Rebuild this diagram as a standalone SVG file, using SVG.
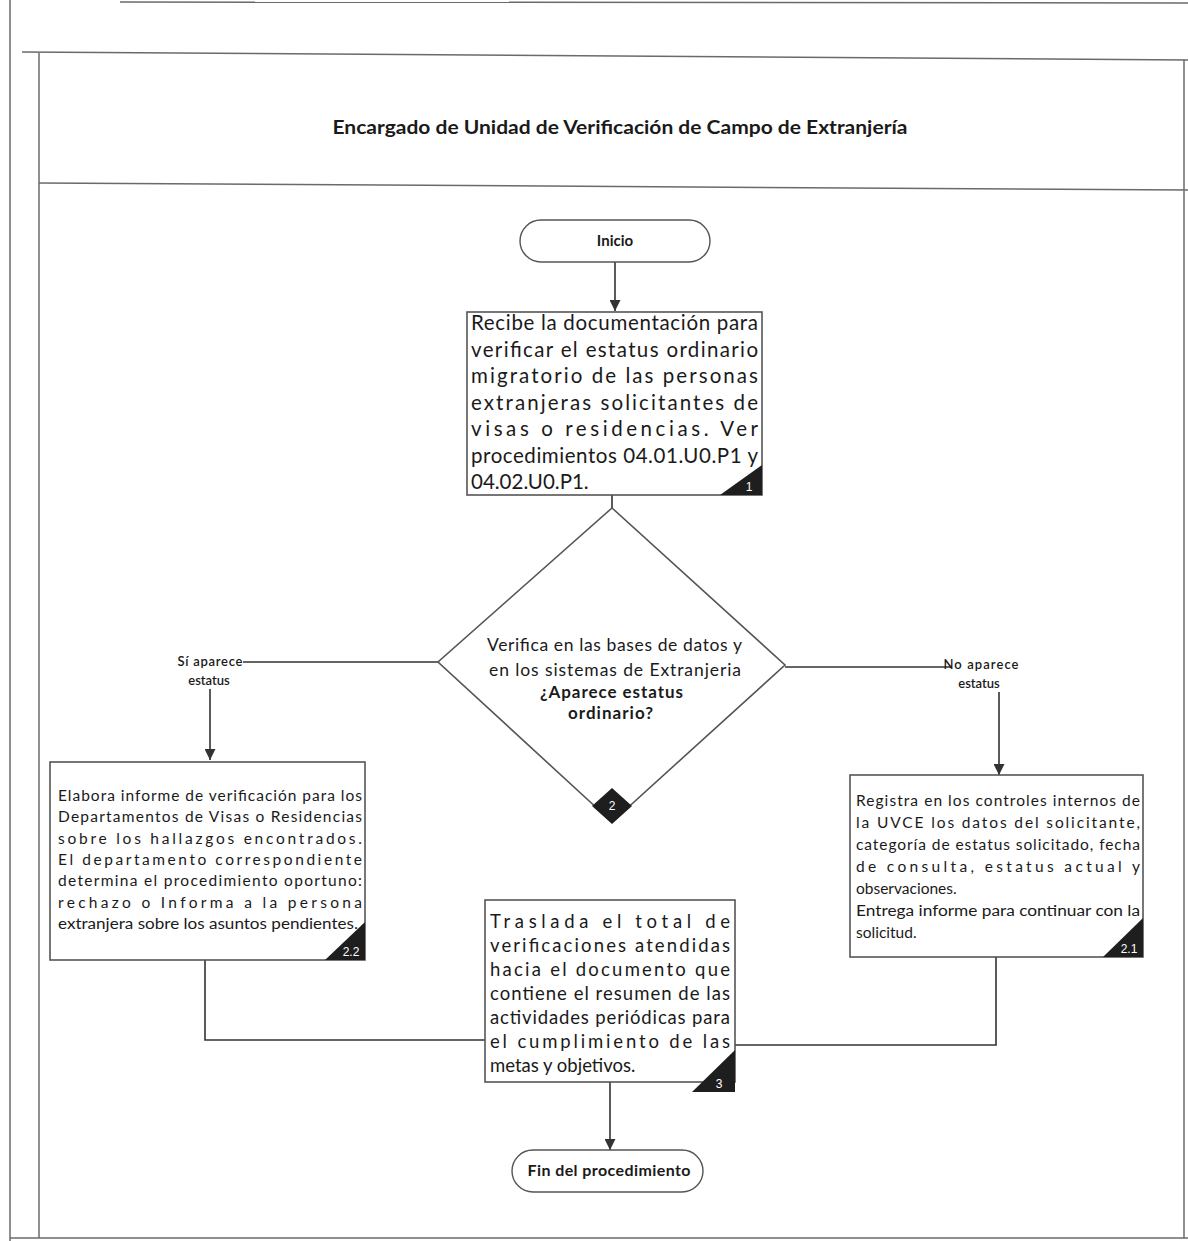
<svg xmlns="http://www.w3.org/2000/svg" width="1188" height="1241" viewBox="0 0 1188 1241">
  <defs>
    <style>
      .frame { stroke: #6a6a6a; stroke-width: 1.5; fill: none; }
      .box { fill: #ffffff; stroke: #555555; stroke-width: 1.6; }
      .term { fill: #ffffff; stroke: #555555; stroke-width: 1.4; }
      .txt { font-family: Lato, "Liberation Sans", sans-serif; fill: #1a1a1a; }
      .b { font-weight: bold; }
      .conn { stroke: #333333; stroke-width: 1.6; fill: none; }
      .badge { fill: #1e1e1e; }
      .bnum { font-family: "Liberation Sans", sans-serif; fill: #ffffff; font-size: 12px; text-anchor: middle; }
      .lbl { font-family: Lato, "Liberation Sans", sans-serif; fill: #1a1a1a; font-size: 13px; font-weight: 600; text-anchor: middle; }
    </style>
    <marker id="arrow" viewBox="0 0 10 10" refX="10" refY="5" markerWidth="11" markerHeight="11" markerUnits="userSpaceOnUse" orient="auto">
      <path d="M0,0 L10,5 L0,10 z" fill="#333333"/>
    </marker>
  </defs>

  <rect x="0" y="0" width="1188" height="1241" fill="#ffffff"/>

  <!-- page frame and lane header -->
  <g id="frame">
    <line class="frame" x1="120" y1="2" x2="1188" y2="3" stroke-width="2.5"/>
    <line class="frame" x1="10" y1="0" x2="10" y2="1241"/>
    <line class="frame" x1="39" y1="53" x2="39" y2="1238"/>
    <line class="frame" x1="22" y1="52" x2="1188" y2="60"/>
    <line class="frame" x1="39" y1="183" x2="1188" y2="190"/>
    <line class="frame" x1="10" y1="1238" x2="1188" y2="1238" stroke-width="2"/>
    <line class="frame" x1="1184" y1="60" x2="1184" y2="1238" stroke="#aaaaaa"/>
    <text class="txt b" x="620" y="134" font-size="18" text-anchor="middle" textLength="575" lengthAdjust="spacingAndGlyphs">Encargado de Unidad de Verificación de Campo de Extranjería</text>
  </g>

  <!-- connectors -->
  <g id="connectors">
    <line class="conn" x1="615" y1="262" x2="615" y2="311" marker-end="url(#arrow)"/>
    <line class="conn" x1="612" y1="495" x2="612" y2="508"/>
    <path class="conn" d="M438,662 H210 V760" marker-end="url(#arrow)"/>
    <path class="conn" d="M785,667 H999 V775" marker-end="url(#arrow)"/>
    <path class="conn" d="M205,960 V1040 H485"/>
    <path class="conn" d="M996,957 V1045 H735"/>
    <line class="conn" x1="610" y1="1082" x2="610" y2="1150" marker-end="url(#arrow)"/>
    <!-- branch labels -->
    <rect x="174" y="650" width="69" height="14" fill="#ffffff"/>
    <rect x="182" y="664" width="56" height="25" fill="#ffffff"/>
    <text class="lbl" x="210" y="666" textLength="65" lengthAdjust="spacing">Sí aparece</text>
    <text class="lbl" x="209" y="685">estatus</text>
    <rect x="943" y="652" width="78" height="14" fill="#ffffff"/>
    <rect x="952" y="666" width="56" height="26" fill="#ffffff"/>
    <text class="lbl" x="981" y="669" textLength="75" lengthAdjust="spacing">No aparece</text>
    <text class="lbl" x="979" y="688">estatus</text>
  </g>

  <!-- start -->
  <g id="inicio">
    <rect class="term" x="520" y="220" width="190" height="42" rx="21" ry="21"/>
    <text class="txt b" x="615" y="246" font-size="15" text-anchor="middle">Inicio</text>
  </g>

  <!-- step 1 -->
  <g id="step1">
    <rect class="box" x="467" y="312" width="295" height="183"/>
    <g class="txt" font-size="20.5">
      <text x="471" y="330" textLength="287" lengthAdjust="spacing">Recibe la documentación para</text>
      <text x="471" y="356.5" textLength="287" lengthAdjust="spacing">verificar el estatus ordinario</text>
      <text x="471" y="383" textLength="287" lengthAdjust="spacing">migratorio de las personas</text>
      <text x="471" y="409.5" textLength="287" lengthAdjust="spacing">extranjeras solicitantes de</text>
      <text x="471" y="436" textLength="287" lengthAdjust="spacing">visas o residencias. Ver</text>
      <text x="471" y="462.5" textLength="287" lengthAdjust="spacing">procedimientos 04.01.U0.P1 y</text>
      <text x="471" y="489">04.02.U0.P1.</text>
    </g>
    <path class="badge" d="M720,495 L762,495 L762,465 z"/>
    <text class="bnum" x="749" y="491">1</text>
  </g>

  <!-- step 2: decision -->
  <g id="step2">
    <path class="box" d="M612,508 L785,665 L612,822 L438,662 z"/>
    <g class="txt" text-anchor="middle">
      <text x="614.5" y="651" font-size="17.5" textLength="255" lengthAdjust="spacing">Verifica en las bases de datos y</text>
      <text x="615" y="676" font-size="17.5" textLength="252" lengthAdjust="spacing">en los sistemas de Extranjeria</text>
      <text class="b" x="611.5" y="698" font-size="17" textLength="143" lengthAdjust="spacing">¿Aparece estatus</text>
      <text class="b" x="610.5" y="719" font-size="17" textLength="85" lengthAdjust="spacing">ordinario?</text>
    </g>
    <path class="badge" d="M612,788 L632,806 L612,824 L592,806 z"/>
    <text class="bnum" x="612" y="810">2</text>
  </g>

  <!-- step 2.2 -->
  <g id="step2_2">
    <rect class="box" x="50" y="762" width="315" height="198"/>
    <g class="txt" font-size="15.5">
      <text x="58" y="801" textLength="304" lengthAdjust="spacing">Elabora informe de verificación para los</text>
      <text x="58" y="822" textLength="304" lengthAdjust="spacing">Departamentos de Visas o Residencias</text>
      <text x="58" y="844" textLength="304" lengthAdjust="spacing">sobre los hallazgos encontrados.</text>
      <text x="58" y="865" textLength="304" lengthAdjust="spacing">El departamento correspondiente</text>
      <text x="58" y="886" textLength="304" lengthAdjust="spacing">determina el procedimiento oportuno:</text>
      <text x="58" y="908" textLength="304" lengthAdjust="spacing">rechazo o Informa a la persona</text>
      <text x="58" y="929" textLength="300" lengthAdjust="spacingAndGlyphs">extranjera sobre los asuntos pendientes.</text>
    </g>
    <path class="badge" d="M325,960 L365,960 L365,922 z"/>
    <text class="bnum" x="351" y="956">2.2</text>
  </g>

  <!-- step 2.1 -->
  <g id="step2_1">
    <rect class="box" x="850" y="775" width="293" height="182"/>
    <g class="txt" font-size="15.5">
      <text x="856" y="806" textLength="284" lengthAdjust="spacing">Registra en los controles internos de</text>
      <text x="856" y="828" textLength="284" lengthAdjust="spacing">la UVCE los datos del solicitante,</text>
      <text x="856" y="850" textLength="284" lengthAdjust="spacing">categoría de estatus solicitado, fecha</text>
      <text x="856" y="872" textLength="284" lengthAdjust="spacing">de consulta, estatus actual y</text>
      <text x="856" y="894">observaciones.</text>
      <text x="856" y="916" textLength="284" lengthAdjust="spacingAndGlyphs">Entrega informe para continuar con la</text>
      <text x="856" y="938">solicitud.</text>
    </g>
    <path class="badge" d="M1103,957 L1143,957 L1143,918 z"/>
    <text class="bnum" x="1129" y="953">2.1</text>
  </g>

  <!-- step 3 -->
  <g id="step3">
    <rect class="box" x="485" y="900" width="250" height="182"/>
    <g class="txt" font-size="18.5">
      <text x="490" y="928" textLength="240" lengthAdjust="spacing">Traslada el total de</text>
      <text x="490" y="952" textLength="240" lengthAdjust="spacing">verificaciones atendidas</text>
      <text x="490" y="976" textLength="240" lengthAdjust="spacing">hacia el documento que</text>
      <text x="490" y="1000" textLength="240" lengthAdjust="spacing">contiene el resumen de las</text>
      <text x="490" y="1024" textLength="240" lengthAdjust="spacing">actividades periódicas para</text>
      <text x="490" y="1048" textLength="240" lengthAdjust="spacing">el cumplimiento de las</text>
      <text x="490" y="1072">metas y objetivos.</text>
    </g>
    <path class="badge" d="M692,1092 L735,1092 L735,1050 z"/>
    <text class="bnum" x="719" y="1088">3</text>
  </g>

  <!-- end -->
  <g id="fin">
    <rect class="term" x="512" y="1150" width="191" height="42" rx="21" ry="21"/>
    <text class="txt b" x="609" y="1176" font-size="16" text-anchor="middle" textLength="163" lengthAdjust="spacing">Fin del procedimiento</text>
  </g>
</svg>
